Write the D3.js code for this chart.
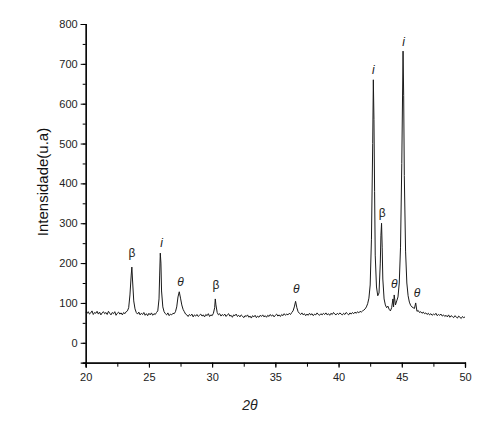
<!DOCTYPE html>
<html><head><meta charset="utf-8">
<script src="https://cdn.jsdelivr.net/npm/d3@7/dist/d3.min.js"></script>
<style>body{margin:0;background:#fff}svg{display:block}text{font-family:Arial,"Liberation Sans",sans-serif}</style>
</head><body><svg id="c" width="500" height="437"></svg>
<script>
const twoTheta = [20.0,20.1,20.2,20.3,20.4,20.5,20.6,20.7,20.8,20.9,21.0,21.1,21.2,21.3,21.4,21.5,21.6,21.7,21.8,21.9,22.0,22.1,22.2,22.3,22.4,22.5,22.6,22.7,22.8,22.9,23.0,23.1,23.2,23.3,23.4,23.5,23.6,23.65,23.7,23.8,23.9,24.0,24.1,24.2,24.3,24.4,24.5,24.6,24.7,24.8,24.9,25.0,25.1,25.2,25.3,25.4,25.5,25.6,25.7,25.8,25.85,25.9,25.95,26.0,26.1,26.2,26.3,26.4,26.5,26.6,26.7,26.8,26.9,27.0,27.1,27.2,27.3,27.4,27.5,27.6,27.7,27.8,27.9,28.0,28.1,28.2,28.3,28.4,28.5,28.6,28.7,28.8,28.9,29.0,29.1,29.2,29.3,29.4,29.5,29.6,29.7,29.8,29.9,30.0,30.1,30.2,30.25,30.3,30.4,30.5,30.6,30.7,30.8,30.9,31.0,31.1,31.2,31.3,31.4,31.5,31.6,31.7,31.8,31.9,32.0,32.1,32.2,32.3,32.4,32.5,32.6,32.7,32.8,32.9,33.0,33.1,33.2,33.3,33.4,33.5,33.6,33.7,33.8,33.9,34.0,34.1,34.2,34.3,34.4,34.5,34.6,34.7,34.8,34.9,35.0,35.1,35.2,35.3,35.4,35.5,35.6,35.7,35.8,35.9,36.0,36.1,36.2,36.3,36.4,36.5,36.6,36.7,36.8,36.9,37.0,37.1,37.2,37.3,37.4,37.5,37.6,37.7,37.8,37.9,38.0,38.1,38.2,38.3,38.4,38.5,38.6,38.7,38.8,38.9,39.0,39.1,39.2,39.3,39.4,39.5,39.6,39.7,39.8,39.9,40.0,40.1,40.2,40.3,40.4,40.5,40.6,40.7,40.8,40.9,41.0,41.1,41.2,41.3,41.4,41.5,41.6,41.7,41.8,41.9,42.0,42.1,42.2,42.3,42.4,42.5,42.6,42.7,42.75,42.8,42.85,42.9,43.0,43.1,43.2,43.3,43.35,43.4,43.45,43.5,43.6,43.7,43.8,43.9,44.0,44.1,44.2,44.3,44.35,44.4,44.5,44.6,44.7,44.8,44.9,45.0,45.1,45.15,45.2,45.3,45.4,45.5,45.6,45.7,45.8,45.9,46.0,46.1,46.2,46.3,46.4,46.5,46.6,46.7,46.8,46.9,47.0,47.1,47.2,47.3,47.4,47.5,47.6,47.7,47.8,47.9,48.0,48.1,48.2,48.3,48.4,48.5,48.6,48.7,48.8,48.9,49.0,49.1,49.2,49.3,49.4,49.5,49.6,49.7,49.8,49.9,50.0];
const intensity = [76,73,78,72,75,80,71,76,74,79,72,77,70,75,78,73,76,71,79,74,70,76,73,78,69,74,77,72,75,70,76,73,78,80,88,120,170,190,160,105,85,76,72,77,70,74,71,76,69,73,68,74,70,75,69,73,71,76,80,110,170,225,200,130,90,78,73,70,75,68,72,70,74,73,78,90,115,128,112,95,84,78,72,70,66,71,68,72,65,70,67,71,66,69,72,67,70,65,71,68,73,66,70,68,74,88,110,95,76,70,73,67,71,68,72,66,70,73,67,69,64,70,68,72,66,69,65,70,67,63,68,66,70,64,67,62,68,65,69,63,67,64,69,66,70,65,68,64,69,66,71,67,70,65,69,72,67,70,66,71,68,73,69,72,70,74,71,76,80,90,104,88,78,74,71,75,70,73,68,72,69,74,70,73,68,72,70,75,71,69,73,70,74,71,75,70,73,69,74,71,76,72,70,74,71,75,72,70,74,71,76,73,70,75,72,76,73,77,74,78,75,79,77,80,82,85,90,98,112,145,260,500,660,560,380,220,140,118,125,200,270,300,240,160,110,95,88,92,84,80,88,110,90,120,95,105,115,150,240,450,732,620,420,230,150,118,102,94,90,88,86,100,79,81,76,78,74,77,73,75,71,74,70,73,69,72,70,74,68,71,69,72,67,70,66,69,65,70,64,68,66,63,68,65,62,67,64,61,66,63,65];
const peakLabels = ["β","i","θ","β","θ","i","β","θ","i","θ"];
const peakLabelX = [23.65,26.0,27.5,30.3,36.65,42.75,43.45,44.4,45.15,46.2];
const peakLabelY = [226,251,153,145,135,686,326,148,756,125];
const xTicks = [20,25,30,35,40,45,50];
const yTicks = [0,100,200,300,400,500,600,700,800];

const svg = d3.select("#c");
const x = d3.scaleLinear().domain([20,50]).range([85.7,465]);
const y = d3.scaleLinear().domain([-50,800]).range([362.7,24]);

// minor ticks
const gx = svg.append("g").attr("transform","translate(0,362.7)");
gx.call(d3.axisBottom(x).tickValues(d3.range(20,50.01,2.5)).tickSize(4).tickFormat(""));
gx.append("g").call(d3.axisBottom(x).tickValues(xTicks).tickSize(5).tickPadding(6).tickFormat(d3.format("d")));
const gy = svg.append("g").attr("transform","translate(85.7,0)");
gy.call(d3.axisLeft(y).tickValues(d3.range(-50,800.01,50)).tickSize(3).tickFormat(""));
gy.append("g").call(d3.axisLeft(y).tickValues(yTicks).tickSize(5).tickPadding(3).tickFormat(d3.format("d")));
svg.selectAll(".domain").attr("stroke","#000").attr("stroke-width",1.2);
svg.selectAll(".tick line").attr("stroke","#000");
svg.selectAll(".tick text").attr("font-size",11).attr("fill","#222").attr("font-family","Arial, 'Liberation Sans', sans-serif");

const pts = twoTheta.map((t,i)=>[t,intensity[i]]);
svg.append("path").datum(pts)
  .attr("fill","none").attr("stroke","#1a1a1a").attr("stroke-width",1)
  .attr("d", d3.line().x(d=>x(d[0])).y(d=>y(d[1])));

svg.selectAll("text.pl").data(peakLabels).enter().append("text")
  .attr("class","pl")
  .attr("x",(d,i)=>x(peakLabelX[i])).attr("y",(d,i)=>y(peakLabelY[i]))
  .attr("dy","0.35em").attr("text-anchor","middle")
  .attr("font-size",12).attr("fill","#222")
  .attr("font-style",d=>d==="β"?"normal":"italic")
  .text(d=>d);

svg.append("text").attr("transform","translate(48,182) rotate(-90)")
  .attr("text-anchor","middle").attr("font-size",15).attr("fill","#111")
  .text("Intensidade(u.a)");
svg.append("text").attr("x",250).attr("y",410).attr("text-anchor","middle")
  .attr("font-size",14).attr("font-style","italic").attr("fill","#222").text("2θ");
</script></body></html>
